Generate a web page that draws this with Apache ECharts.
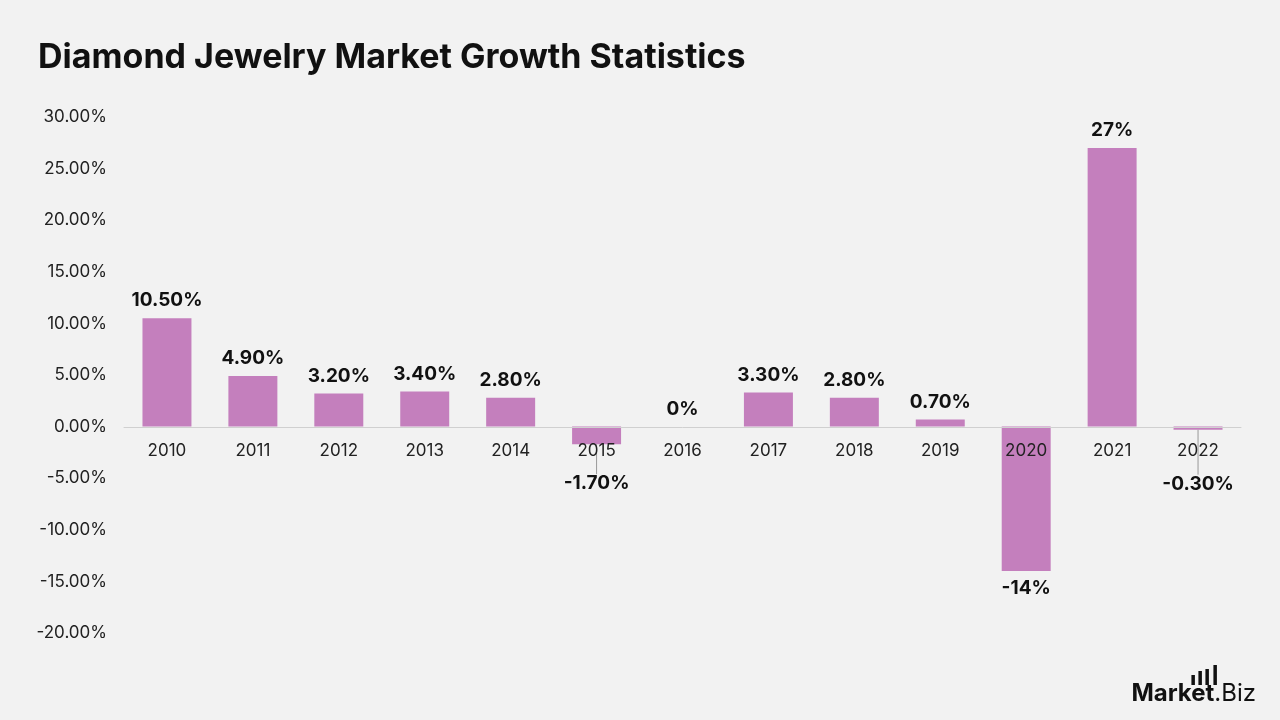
<!DOCTYPE html>
<html>
<head>
<meta charset="utf-8">
<script src="https://cdn.jsdelivr.net/npm/echarts@6/dist/echarts.min.js"></script>
<style>
  html, body { margin: 0; padding: 0; background: #f2f2f2; }
  #chart { width: 1280px; height: 720px; }
</style>
</head>
<body>
<div id="chart"></div>
<script>
const years = ['2010', '2011', '2012', '2013', '2014', '2015', '2016', '2017', '2018', '2019', '2020', '2021', '2022']
const growth = [10.5, 4.9, 3.2, 3.4, 2.8, -1.7, 0, 3.3, 2.8, 0.7, -14, 27, -0.3]
const growthLabels = ['10.50%', '4.90%', '3.20%', '3.40%', '2.80%', '-1.70%', '0%', '3.30%', '2.80%', '0.70%', '-14%', '27%', '-0.30%']
// labels pushed down below the year labels, with a leader line
const pushedDown = { 5: 22, 12: 37 }

const FONT = 'Inter, "Open Sans", sans-serif'
const BAR = '#c47fbd'

const chart = echarts.init(document.getElementById('chart'))

// grid is 516px tall for -20..30, so zero sits 206px above the bottom
const zeroOffset = -Math.round(516 * 20 / 50)

chart.setOption({
  animation: false,
  backgroundColor: '#f2f2f2',
  title: {
    text: 'Diamond Jewelry Market Growth Statistics',
    left: 33,
    top: 36,
    textStyle: { fontFamily: FONT, fontSize: 34, fontWeight: 'bold', color: '#111' }
  },
  grid: { left: 124, right: 39, top: 117, bottom: 87 },
  xAxis: {
    type: 'category',
    data: years,
    offset: zeroOffset,
    z: 5,
    axisLine: { onZero: false, lineStyle: { color: '#d0d0d0' } },
    axisTick: { show: false },
    axisLabel: { margin: 15, fontFamily: FONT, fontSize: 17, color: '#222' }
  },
  yAxis: {
    type: 'value',
    min: -20,
    max: 30,
    interval: 5,
    axisLine: { show: false },
    axisTick: { show: false },
    splitLine: { show: false },
    axisLabel: {
      margin: 17,
      fontFamily: FONT,
      fontSize: 17,
      color: '#222',
      formatter: (v) => v.toFixed(2) + '%'
    }
  },
  series: [
    {
      type: 'bar',
      barWidth: '57%',
      z: 2,
      itemStyle: { color: BAR },
      data: growth.map((v, i) => ({
        value: v,
        label: { position: v < 0 ? 'bottom' : 'top', distance: 8 },
        labelLine: { show: !!pushedDown[i] }
      })),
      label: {
        show: true,
        fontFamily: FONT,
        fontSize: 19,
        fontWeight: 'bold',
        color: '#111',
        formatter: (p) => growthLabels[p.dataIndex]
      },
      labelLine: { show: false, lineStyle: { color: '#999', width: 1 } },
      labelLayout: (p) => {
        const dy = pushedDown[p.dataIndex]
        return dy ? { dy: dy } : {}
      }
    }
  ],
  graphic: [
    {
      type: 'group',
      right: 24,
      bottom: 14,
      children: [
        { type: 'rect', shape: { x: 60, y: 5, width: 3.5, height: 10 }, style: { fill: '#111' } },
        { type: 'rect', shape: { x: 67, y: 1, width: 3.5, height: 14 }, style: { fill: '#111' } },
        { type: 'rect', shape: { x: 74, y: -1, width: 3.5, height: 16 }, style: { fill: '#111' } },
        { type: 'rect', shape: { x: 82, y: -5, width: 3.5, height: 20 }, style: { fill: '#111' } },
        {
          type: 'text',
          x: 0,
          y: 12,
          style: {
            text: '{b|Market}{r|.Biz}',
            rich: {
              b: { fontFamily: FONT, fontSize: 24, fontWeight: 'bold', fill: '#111' },
              r: { fontFamily: FONT, fontSize: 24, fontWeight: 'normal', fill: '#111' }
            }
          }
        }
      ]
    }
  ]
})
</script>
</body>
</html>
